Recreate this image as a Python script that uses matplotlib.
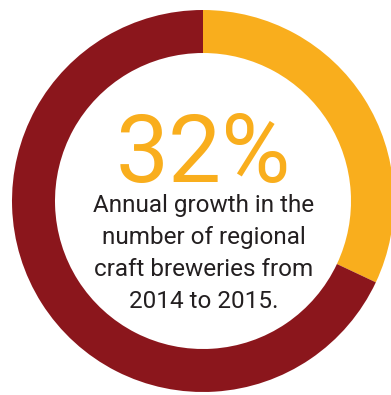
import matplotlib
matplotlib.use('Agg')
import matplotlib.pyplot as plt

# growth share shown by the ring
growth_pct = 32
shares = [growth_pct, 100 - growth_pct]
colors = ['#F9AE1D', '#8B161C']
headline = '%d%%' % growth_pct
caption = ['Annual growth in the',
           'number of regional',
           'craft breweries from',
           '2014 to 2015.']

W, H = 391, 395
fig = plt.figure(figsize=(W / 100, H / 100), dpi=100)
ax = fig.add_axes([0, 0, 1, 1])

cx, cy, r = 203, H - 201, 191
ax.pie(shares, colors=colors, startangle=90, counterclock=False,
       center=(cx, cy), radius=r, frame=True,
       wedgeprops=dict(width=43, linewidth=0))
ax.set_xlim(0, W)
ax.set_ylim(0, H)
ax.set_aspect('equal')
ax.axis('off')

ax.text(cx, H - 182, headline, ha='center', va='baseline',
        fontsize=68, color=colors[0], family='Roboto')
for i, line in enumerate(caption):
    ax.text(cx + 1, H - 212 - 32 * i, line, ha='center', va='baseline',
            fontsize=17.5, color='#231F20', family='Roboto')

plt.savefig('out.png', dpi=100)
